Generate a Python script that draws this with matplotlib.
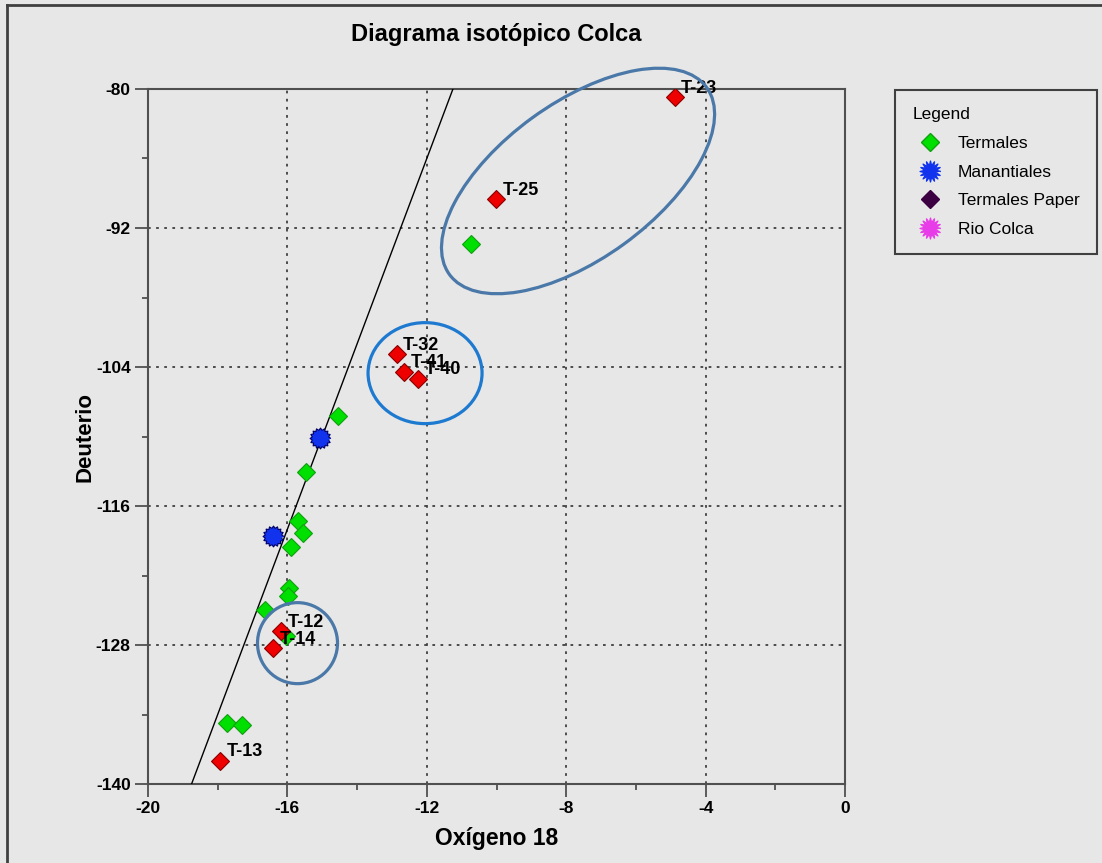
import numpy as np
import matplotlib
matplotlib.use("Agg")
import matplotlib.pyplot as plt
from matplotlib.lines import Line2D
from matplotlib.patches import Ellipse
from matplotlib.transforms import ScaledTranslation

plt.rcParams['font.family'] = ['Liberation Sans', 'DejaVu Sans']
plt.rcParams['axes.unicode_minus'] = False

# datos (oxigeno 18, deuterio)
termales_o18 = [-10.73, -14.55, -15.47, -15.70, -15.55, -15.90, -15.95, -15.98, -16.64, -16.04, -17.73, -17.30]
termales_d = [-93.4, -108.2, -113.1, -117.3, -118.3, -119.5, -123.1, -123.8, -125.0, -127.2, -134.7, -134.9]

manantiales_o18 = [-15.06, -16.41]
manantiales_d = [-110.1, -118.6]

muestras_nombres = ['T-23', 'T-25', 'T-32', 'T-41', 'T-40', 'T-12', 'T-14', 'T-13']
muestras_o18 = [-4.88, -10.01, -12.86, -12.65, -12.25, -16.18, -16.41, -17.93]
muestras_d = [-80.7, -89.5, -102.9, -104.4, -105.0, -126.8, -128.3, -138.0]

# linea meteorica global: dD = 8 * d18O + 10
gmwl_pendiente = 8
gmwl_intercepto = 10

x_ticks = [-20, -16, -12, -8, -4, 0]
y_ticks = [-140, -128, -116, -104, -92, -80]

bg = '#e7e7e7'
fig = plt.figure(figsize=(11.02, 8.63), dpi=100, facecolor=bg)
ax = fig.add_axes([148/1102, 79/863, 697/1102, 695/863], facecolor=bg)

# marcador tipo engranaje
ang = np.linspace(0, 2*np.pi, 33)[:-1]
rad = np.where(np.arange(32) % 2 == 0, 1.0, 0.8)
gear = list(zip(rad*np.cos(ang), rad*np.sin(ang)))
rad2 = np.where(np.arange(32) % 2 == 0, 1.0, 0.55)
estrella = list(zip(rad2*np.cos(ang), rad2*np.sin(ang)))

ax.plot(termales_o18, termales_d, 'D', color='#00e000', mec='#10a010', mew=0.8, ms=9, zorder=4)
ax.plot(manantiales_o18, manantiales_d, linestyle='none', marker=gear, color='#1133ee',
        mec='#000066', mew=0.8, ms=15, zorder=4)
ax.plot(muestras_o18, muestras_d, 'D', color='#ee0000', mec='#880000', mew=0.8, ms=9, zorder=5)

for n, x, y in zip(muestras_nombres, muestras_o18, muestras_d):
    ax.annotate(n, (x, y), xytext=(4.5, 6.5), textcoords='offset points',
                ha='left', va='center', fontsize=13, fontweight='bold', zorder=6)

xl = np.array([-20, 0])
ax.plot(xl, gmwl_pendiente*xl + gmwl_intercepto, color='black', lw=1, zorder=3)

# elipses (tamano en pixeles, centro en datos)
def elipse(cx, cy, w, h, angulo, color):
    tr = fig.dpi_scale_trans + ScaledTranslation(cx, cy, ax.transData)
    e = Ellipse((0, 0), w/100, h/100, angle=angulo, transform=tr, fill=False,
                edgecolor=color, lw=2.3, zorder=7, clip_on=False)
    ax.add_patch(e)

elipse(-7.66, -87.94, 318, 156, 36, '#4a78a8')
elipse(-12.05, -104.53, 114, 101, 0, '#1e7ad0')
elipse(-15.71, -127.84, 80, 81, 0, '#4a78a8')

ax.set_xlim(-20, 0)
ax.set_ylim(-140, -80)
ax.set_xticks(x_ticks)
ax.set_yticks(y_ticks)
ax.set_xticks(np.arange(-20, 1, 2), minor=True)
ax.set_yticks(np.arange(-140, -79, 6), minor=True)
ax.tick_params(which='major', direction='out', length=9.5, width=1.3, color='#505050',
               labelsize=12.5, pad=3)
ax.tick_params(which='minor', direction='out', length=4.5, width=1.3, color='#505050')
for t in ax.get_xticklabels() + ax.get_yticklabels():
    t.set_fontweight('bold')
for s in ax.spines.values():
    s.set_color('#505050')
    s.set_linewidth(1.5)
ax.grid(True, which='major', color='#404040', linestyle=(0, (1.5, 3)), lw=1.3, zorder=1)

ax.set_xlabel('Oxígeno 18', fontsize=16.5, fontweight='bold')
ax.xaxis.set_label_coords(0.5, -0.062)
ax.set_ylabel('Deuterio', fontsize=16, fontweight='bold')
ax.yaxis.set_label_coords(-0.075, 0.5)

fig.text(496/1102, 1 - 35/863, 'Diagrama isotópico Colca', ha='center', va='center',
         fontsize=17, fontweight='bold')

handles = [
    Line2D([], [], linestyle='none', marker='D', color='#00e000', mec='#10a010', ms=9),
    Line2D([], [], linestyle='none', marker=estrella, color='#1133ee', mec='#1133ee', ms=15),
    Line2D([], [], linestyle='none', marker='D', color='#3c0042', mec='#3c0042', ms=9),
    Line2D([], [], linestyle='none', marker=estrella, color='#e83ce8', mec='#e83ce8', ms=15),
]
labels = ['Termales', 'Manantiales', 'Termales Paper', 'Rio Colca']
leg = fig.legend(handles, labels, loc='upper left', bbox_to_anchor=(895/1102, 1 - 90/863),
                 title='Legend', alignment='left', fontsize=12.5, title_fontsize=12.5,
                 fancybox=False, framealpha=1, facecolor=bg, edgecolor='#404040',
                 labelspacing=0.78, handletextpad=0.6, borderpad=1.0, borderaxespad=0)
leg.get_frame().set_linewidth(1.5)

# marco exterior
fig.add_artist(Line2D([7/1102, 7/1102], [0, 1 - 5/863], color='#404040', lw=2,
                      transform=fig.transFigure))
fig.add_artist(Line2D([7/1102, 1], [1 - 5/863, 1 - 5/863], color='#404040', lw=2,
                      transform=fig.transFigure))

fig.savefig('out.png', dpi=100, facecolor=bg)
